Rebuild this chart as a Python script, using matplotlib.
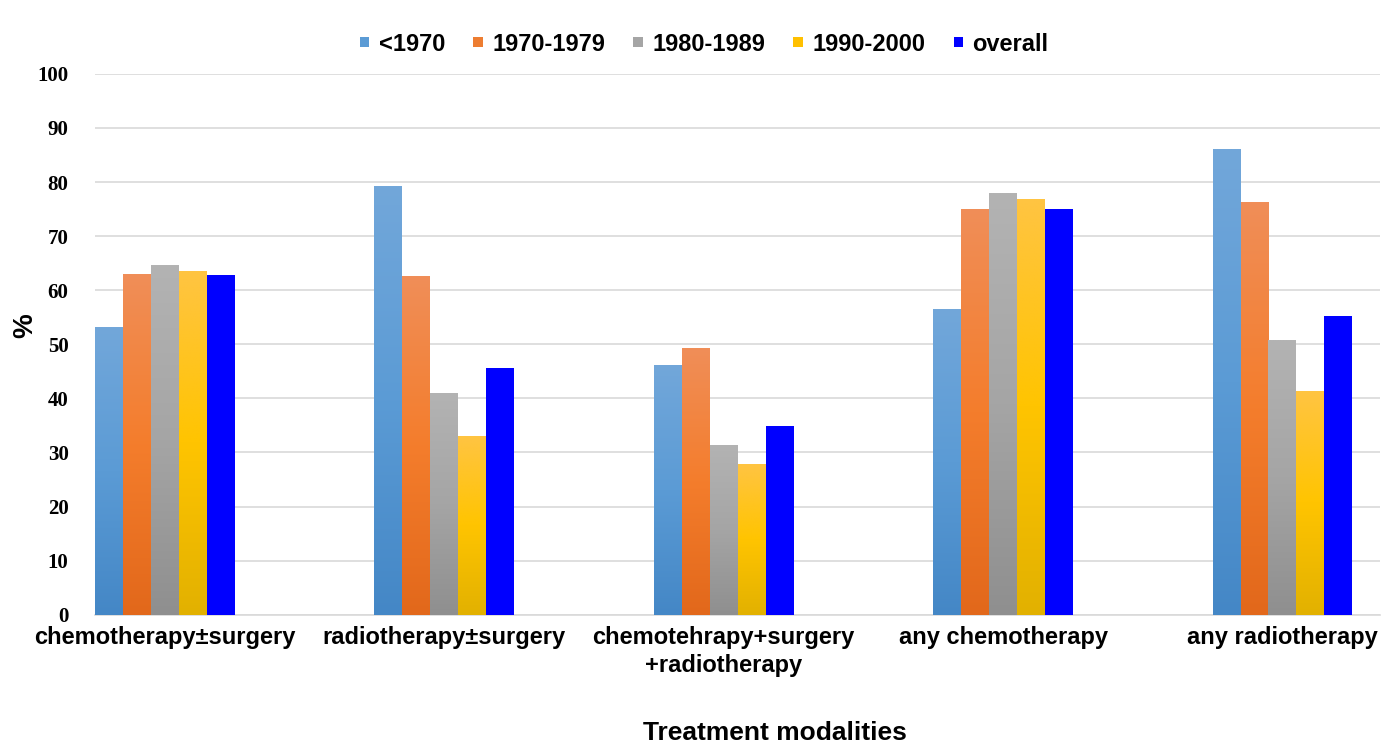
import numpy as np
import matplotlib
matplotlib.use('Agg')
from matplotlib import pyplot as plt
from matplotlib.colors import LinearSegmentedColormap
from matplotlib.patches import Patch

categories = ['chemotherapy±surgery', 'radiotherapy±surgery',
              'chemotehrapy+surgery\n+radiotherapy', 'any chemotherapy',
              'any radiotherapy']
series = ['<1970', '1970-1979', '1980-1989', '1990-2000', 'overall']
values = {
    '<1970':     [53.2, 79.3, 46.2, 56.4, 86.0],
    '1970-1979': [63.0, 62.5, 49.2, 75.0, 76.2],
    '1980-1989': [64.6, 41.0, 31.4, 78.0, 50.8],
    '1990-2000': [63.5, 33.0, 27.8, 76.9, 41.3],
    'overall':   [62.8, 45.5, 34.8, 75.0, 55.2],
}
yticks = list(range(0, 101, 10))

# kolory gradientu: góra, środek, dół
gradients = {
    '<1970':     ['#72a7da', '#5b9bd5', '#4487c6'],
    '1970-1979': ['#f08e58', '#f47d2c', '#e2681b'],
    '1980-1989': ['#b3b3b3', '#a5a5a5', '#8f8f8f'],
    '1990-2000': ['#ffc442', '#ffc400', '#e2b100'],
    'overall':   ['#0000ff', '#0000ff', '#0000ff'],
}
legend_colors = ['#5b9bd5', '#ed7d31', '#a5a5a5', '#ffc000', '#0000ff']

fig = plt.figure(figsize=(13.97, 7.46), dpi=100)
ax = fig.add_axes([0.068, 0.176, 0.92, 0.725])

x = np.arange(len(categories))
w = 0.1
for i, name in enumerate(series):
    cmap = LinearSegmentedColormap.from_list(name, gradients[name][::-1])
    grad = np.linspace(0, 1, 256).reshape(-1, 1)
    pos = x - 0.2 + i * w
    bars = ax.bar(pos, values[name], width=w, color=gradients[name][1],
                  zorder=2, linewidth=0)
    for b in bars:
        x0, y0 = b.get_x(), b.get_y()
        ax.imshow(grad, cmap=cmap, origin='lower', aspect='auto',
                  extent=(x0, x0 + b.get_width(), y0, y0 + b.get_height()),
                  zorder=3, interpolation='bilinear')

ax.set_xlim(-0.25, 4.35)
ax.set_ylim(0, 100)
ax.set_yticks(yticks)
ax.set_yticklabels([str(t) for t in yticks], family='Liberation Serif',
                   fontweight='bold', fontsize=15)
ax.set_xticks(x)
ax.set_xticklabels(categories, family='Liberation Sans', fontweight='bold',
                   fontsize=17, linespacing=1.3)
ax.tick_params(axis='both', length=0)
ax.tick_params(axis='y', pad=19)
ax.tick_params(axis='x', pad=8)
ax.grid(axis='y', color='#d9d9d9', linewidth=1.2, zorder=0)
for s in ['top', 'right', 'left']:
    ax.spines[s].set_visible(False)
ax.spines['bottom'].set_color('#d9d9d9')
ax.spines['bottom'].set_linewidth(1.2)

fig.text(0.018, 0.564, '%', family='Liberation Sans', fontweight='bold',
         fontsize=20, rotation=90, ha='center', va='center')
fig.text(0.555, 0.008, 'Treatment modalities', family='Liberation Sans',
         fontweight='bold', fontsize=19, ha='center')

handles = [Patch(facecolor=c, edgecolor='none') for c in legend_colors]
fig.legend(handles, series, loc='center', bbox_to_anchor=(0.504, 0.941),
           ncol=5, frameon=False, handlelength=0.4, handleheight=0.25,
           handletextpad=0.4, columnspacing=1.2, borderpad=0,
           prop={'family': 'Liberation Sans', 'weight': 'bold', 'size': 17})

fig.savefig('out.png', dpi=100)
